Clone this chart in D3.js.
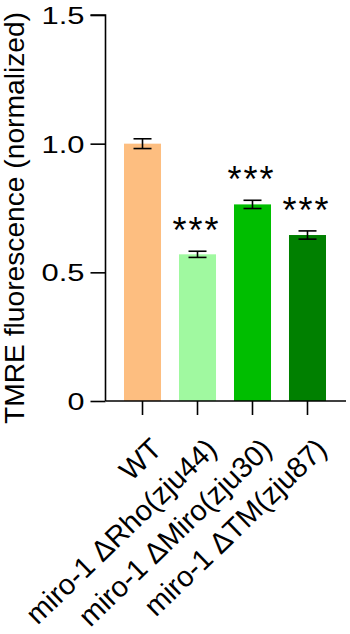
<!DOCTYPE html>
<html><head><meta charset="utf-8">
<script src="https://cdn.jsdelivr.net/npm/d3@7"></script>
<style>body{margin:0;background:#fff}svg{display:block}text{font-family:"Liberation Sans",Arial,sans-serif;fill:#000}</style>
</head><body>
<script>
const categories = ["WT","miro-1 ΔRho(zju44)","miro-1 ΔMiro(zju30)","miro-1 ΔTM(zju87)"];
const values = [1.0, 0.570, 0.764, 0.645];
const errors = [0.019, 0.012, 0.016, 0.016];
const signif = ["", "***", "***", "***"];
const colors = ["#FDBE80","#A0F9A0","#00BE00","#008000"];
const yTicks = [0, 0.5, 1.0, 1.5];
const yTickLabels = ["0","0.5","1.0","1.5"];
const yTitle = "TMRE fluorescence (normalized)";

const W = 350, H = 634;
const svg = d3.select("body").append("svg").attr("width", W).attr("height", H);
const x0 = 105.5, x1 = 346, yTop = 15, yBot = 401;
const y = d3.scaleLinear().domain([0, 1.5]).range([yBot, yTop]);
const x = d3.scaleBand().domain(categories).range([124, 326]).paddingInner(0.327).paddingOuter(0);

// bars
svg.selectAll("rect.bar").data(categories).join("rect")
  .attr("x", d => x(d)).attr("width", x.bandwidth())
  .attr("y", (d,i) => y(values[i])).attr("height", (d,i) => yBot - y(values[i]))
  .attr("fill", (d,i) => colors[i]);

// error bars
const eb = svg.append("g").attr("stroke", "#000").attr("stroke-width", 1.6).attr("fill", "none");
categories.forEach((c,i) => {
  const cx = x(c) + x.bandwidth()/2;
  const top = y(values[i] + errors[i]), bot = y(values[i] - errors[i]);
  eb.append("line").attr("x1", cx).attr("x2", cx).attr("y1", top).attr("y2", bot);
  eb.append("line").attr("x1", cx-9).attr("x2", cx+9).attr("y1", top).attr("y2", top);
  eb.append("line").attr("x1", cx-9).attr("x2", cx+9).attr("y1", bot).attr("y2", bot);
});

// significance
svg.selectAll("text.sig").data(categories).join("text")
  .attr("x", d => x(d) + x.bandwidth()/2 - 1)
  .attr("y", (d,i) => y(values[i] + errors[i]) - 8)
  .attr("text-anchor", "middle").attr("font-size", 36)
  .attr("letter-spacing", 2)
  .text((d,i) => signif[i]);

// y axis
const ya = svg.append("g").attr("transform", `translate(${x0},0)`)
  .call(d3.axisLeft(y).tickValues(yTicks).tickFormat((d,i) => yTickLabels[i]).tickSize(15).tickPadding(6));
ya.select(".domain").attr("stroke-width", 1.6).attr("d", `M-15,${y(1.5)}H0V${yBot}`);
ya.selectAll(".tick line").attr("stroke-width", 1.6);
ya.selectAll(".tick text").attr("font-size", 24).attr("font-family", '"Liberation Sans",Arial,sans-serif')
  .attr("dy", "0.36em")
  .attr("textLength", d => d === 0 ? 17 : 43).attr("lengthAdjust", "spacingAndGlyphs");

// x axis
const xa = svg.append("g").attr("transform", `translate(0,${yBot})`)
  .call(d3.axisBottom(x).tickSize(14).tickFormat(""));
xa.select(".domain").attr("stroke-width", 1.6).attr("d", `M${x0},0H${x1}`);
xa.selectAll(".tick line").attr("stroke-width", 1.6);

// x labels
const xl = svg.append("g");
categories.forEach((c,i) => {
  const cx = x(c) + x.bandwidth()/2;
  xl.append("text")
    .attr("transform", `translate(${cx + 21},${yBot + 50}) rotate(-44)`)
    .attr("text-anchor", "end").attr("font-size", 29)
    .text(c);
});

// y title
svg.append("text")
  .attr("transform", `translate(24,218) rotate(-90)`)
  .attr("text-anchor", "middle").attr("font-size", 27)
  .attr("textLength", 412).attr("lengthAdjust", "spacingAndGlyphs")
  .text(yTitle);
</script>
</body></html>
